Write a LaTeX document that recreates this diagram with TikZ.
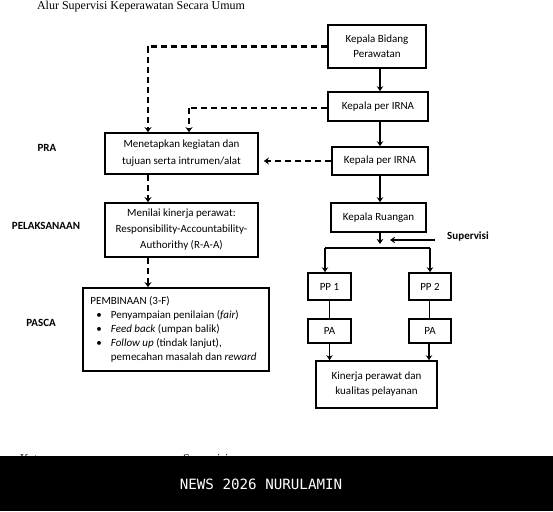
\documentclass[tikz,border=0pt]{standalone}
\usepackage{fontspec}
\setmainfont{Carlito}
\newfontfamily\titlefont{Liberation Serif}
\newfontfamily\wmfont{DejaVu Sans Mono}
\usetikzlibrary{arrows.meta}
\begin{document}
\begin{tikzpicture}[x=1pt,y=-1pt,
  box/.style={draw,line width=1.7pt,rectangle,inner sep=0pt,align=center,font=\fontsize{11}{16}\selectfont},
  arr/.style={line width=1.6pt,-{Stealth[length=5pt,width=6.5pt]}},
  darr/.style={line width=2.6pt,dash pattern=on 6pt off 4pt,-{Stealth[length=5pt,width=7pt]}},
  dline/.style={line width=2.6pt,dash pattern=on 6pt off 4pt},
  lbl/.style={font=\bfseries\fontsize{11}{13}\selectfont,inner sep=0pt},
  thin/.style={line width=0.9pt}]
\useasboundingbox (0,0) rectangle (553,511);
\fill[white] (0,0) rectangle (553,511);
% title
\node[font=\titlefont\fontsize{12}{14}\selectfont,inner sep=0pt] (title) at (141,7) {Alur Supervisi Keperawatan Secara Umum};
% right column
\node[box,minimum width=98pt,minimum height=43pt,font=\fontsize{11}{15}\selectfont] (kb) at (377,46.5) {Kepala Bidang\\Perawatan};
\node[box,minimum width=100pt,minimum height=29pt] (irna1) at (378,106.5) {Kepala per IRNA};
\node[box,minimum width=96pt,minimum height=28pt] (irna2) at (380,161) {Kepala per IRNA};
\node[box,minimum width=95pt,minimum height=29pt] (kr) at (378.5,217.5) {Kepala Ruangan};
\node[box,minimum width=43pt,minimum height=27pt] (pp1) at (329.5,286.5) {PP 1};
\node[box,minimum width=42pt,minimum height=27pt] (pp2) at (430,286.5) {PP 2};
\node[box,minimum width=43pt,minimum height=24pt] (pa1) at (329.5,331) {PA};
\node[box,minimum width=42pt,minimum height=24pt] (pa2) at (430,331) {PA};
\node[box,minimum width=121pt,minimum height=47pt,font=\fontsize{11}{15}\selectfont] (kin) at (376.5,384.5) {Kinerja perawat dan\\kualitas pelayanan};
% left column
\node[box,minimum width=153pt,minimum height=41pt,font=\fontsize{11}{17}\selectfont] (men) at (181.5,153.5) {Menetapkan kegiatan dan\\tujuan serta intrumen/alat};
\node[box,minimum width=153pt,minimum height=54pt] (nil) at (181.5,230) {Menilai kinerja perawat:\\Responsibility-Accountability-\\Authorithy (R-A-A)};
\node[box,minimum width=186pt,minimum height=83pt,align=left,font=\fontsize{11}{14}\selectfont] (pem) at (176,329.5) {%
  \begin{tabular}{@{}l@{\hspace{9pt}}l@{}}
  \multicolumn{2}{@{}l}{PEMBINAAN (3-F)}\\
  \hspace{6pt}\textbullet & Penyampaian penilaian (\textit{fair})\\
  \hspace{6pt}\textbullet & \textit{Feed back} (umpan balik)\\
  \hspace{6pt}\textbullet & \textit{Follow up} (tindak lanjut),\\
   & pemecahan masalah dan \textit{reward}
  \end{tabular}\hspace{5pt}};
% labels
\node[lbl] (pra) at (47,148) {PRA};
\node[lbl] (pel) at (46,226) {PELAKSANAAN};
\node[lbl] (pas) at (41,323) {PASCA};
\node[lbl] (sup) at (468,237) {Supervisi};
% coordinates
\coordinate (j) at (380,244);
\coordinate (sa) at (435,240);
\coordinate (sb) at (390,240);
\coordinate (bl) at (325,248);
\coordinate (br) at (430,248);
\coordinate (d1) at (148,46.5);
\coordinate (d2) at (189,108);
% solid arrows
\draw[arr] (kb.south -| 380,0) -- (irna1.north -| 380,0);
\draw[arr] (irna1.south -| 380,0) -- (irna2.north -| 380,0);
\draw[arr] (irna2.south -| 380,0) -- (kr.north -| 380,0);
\draw[arr] (kr.south -| j) -- (j);
\draw[arr] (sa) -- (sb);
\draw[line width=1.6pt] (bl) -- (br);
\draw[arr] (bl) -- (bl |- pp1.north);
\draw[arr] (br) -- (br |- pp2.north);
\draw[thin] (pp1.south) -- (pa1.north);
\draw[thin] (pp2.south -| 429,0) -- (pa2.north -| 429,0);
\draw[arr] (pa1.south) -- (pa1.south |- kin.north);
\draw[arr] (pa2.south -| 429,0) -- (kin.north -| 429,0);
% dashed arrows
\draw[dline] (kb.west |- d1) -- (d1);
\draw[darr] (d1) -- (d1 |- men.north);
\draw[dline] (irna1.west |- d2) -- (d2);
\draw[darr] (d2) -- (d2 |- men.north);
\draw[darr] (irna2.west) -- ([xshift=5pt]men.east |- irna2.west);
\draw[darr] (men.south -| 148,0) -- (nil.north -| 148,0);
\draw[darr] (nil.south -| 148,0) -- (pem.north -| 148,0);
% legend (partially hidden)
\node[font=\titlefont\fontsize{12}{14}\selectfont,inner sep=0pt,anchor=west] (ket) at (20,460) {Keterangan:};
\coordinate (la) at (110,459);
\node[font=\titlefont\fontsize{12}{14}\selectfont,inner sep=0pt,anchor=west] (lsup) at (183,460) {Supervisi};
\draw[line width=1pt,-{Stealth[length=4pt,width=4pt]}] (la) -- (lsup.west);
% watermark band
\fill[black] (0,456) rectangle (553,511);
\node[font=\wmfont\fontsize{14.2}{16}\selectfont,text=white,inner sep=0pt] (wm) at (261,484) {NEWS 2026 NURULAMIN};
\end{tikzpicture}
\end{document}
